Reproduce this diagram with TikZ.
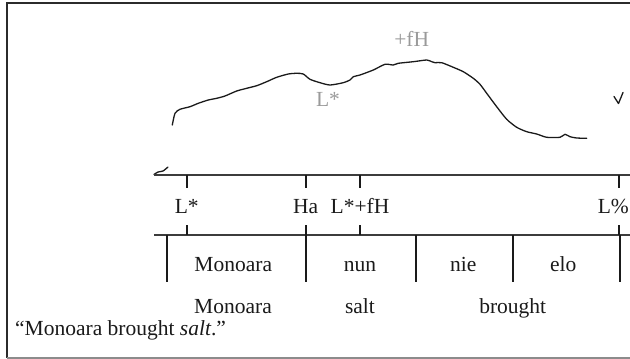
\documentclass[tikz,border=0pt]{standalone}
\usepackage{fontspec}
\setmainfont{Liberation Serif}
\usetikzlibrary{positioning}
\definecolor{framedark}{HTML}{2B2B2B}
\definecolor{framegray}{HTML}{8C8C8C}
\definecolor{labgray}{HTML}{9A9A9A}
\definecolor{inkblack}{HTML}{1A1A1A}

\begin{document}
\begin{tikzpicture}[x=1pt, y=-1pt,
  txt/.style={font=\fontsize{21.5}{26}\selectfont, inner sep=0pt, anchor=base, text=inkblack},
  tier/.style={draw=inkblack!85, line width=1.6pt},
  bar/.style={draw=inkblack, line width=2pt},
  pitch/.style={draw=inkblack, line width=1.3pt, line join=round, line cap=round}]
  \useasboundingbox (0,0) rectangle (630,359);

  % frame (cut off at the right)
  \coordinate (fnw) at (6.5,2.5);
  \coordinate (fne) at (630,2.5);
  \coordinate (fsw) at (6.5,357.5);
  \coordinate (fse) at (630,357.5);
  \draw[framedark, line width=2pt] (fne) -- (fnw) -- (fsw);
  \draw[framegray, line width=2pt] (fsw) -- (fse);

  % pitch track
  \draw[pitch] plot[smooth, tension=0.4] coordinates {(154,174.5) (158,172) (163,171) (168,167)};
  \draw[pitch] plot[smooth, tension=0.4] coordinates {
    (172.3,125) (175,113.3) (180,109.3) (190,106.7) (198.3,103.3) (208.3,100)
    (216.7,98.3) (225,96) (236.7,91) (246.7,88.3) (256.7,85.7) (266.7,81.7)
    (276.7,77.3) (288.3,74) (296.7,73.3) (303.3,74) (310,79.3) (320,82.7)
    (330,85) (343.3,82.7) (350,80) (353.3,76.7) (360,75) (373.3,70) (385,64.3)
    (393.3,65) (398.3,63.3) (413.3,61.7) (426.7,60) (431.7,61.7) (435,62.7)
    (441.7,62.7) (453.3,67.3) (463.3,71.7) (473.3,78.3) (480,84.3) (486.7,93.3)
    (496.7,106.7) (506.7,119.3) (516.7,127.3) (526.7,131.7) (536.7,134)
    (546.7,137.3) (560,137.3) (565,134.3) (570,136.7) (576.7,138) (586.7,138.3)};
  \draw[pitch] (614,96.5) -- (618.5,103.5) -- (623,92.5);
  \node[txt, text=labgray] (peak) at (411.7,46.7) {+fH};
  \node[txt, text=labgray] (trough) at (328,106.7) {L*};

  % tone tier
  \coordinate (tw) at (154,175);
  \coordinate (te) at (630,175);
  \draw[tier] (tw) -- (te);
  \coordinate (sw) at (154,235);
  \coordinate (se) at (630,235);
  \draw[tier] (sw) -- (se);
  \foreach \x/\lab [count=\i] in {186.7/L*, 305.7/Ha, 360/L*+fH}{
    \coordinate (up\i) at (\x,175);
    \coordinate (dn\i) at (\x,188);
    \draw[bar] (up\i) -- (dn\i);
    \node[txt] (tone\i) at (\x,213) {\lab};
    \coordinate (lo\i) at (\x,225);
    \coordinate (li\i) at (\x,235);
    \draw[bar] (lo\i) -- (li\i);
  }
  \coordinate (up4) at (619.3,175);
  \coordinate (dn4) at (619.3,188);
  \draw[bar] (up4) -- (dn4);
  \node[txt, anchor=base east] (tone4) at (629,213) {L\%};
  \coordinate (lo4) at (619.3,225);
  \coordinate (li4) at (619.3,235);
  \draw[bar] (lo4) -- (li4);

  % syllable tier
  \foreach \x [count=\i] in {166.7,305.7,416,512.7,620}{
    \coordinate (bt\i) at (\x,235);
    \coordinate (bb\i) at (\x,281.7);
    \draw[bar] (bt\i) -- (bb\i);
  }
  \foreach \x/\w [count=\i] in {233.3/Monoara, 360/nun, 463.3/nie, 563.3/elo}{
    \node[txt] (syl\i) at (\x,271) {\w};
  }

  % gloss and translation
  \foreach \x/\w [count=\i] in {233/Monoara, 360/salt, 512.7/brought}{
    \node[txt] (gl\i) at (\x,313) {\w};
  }
  \node[txt, anchor=base west] (transl) at (15,335) {``Monoara brought \textit{salt}.''};
\end{tikzpicture}
\end{document}
